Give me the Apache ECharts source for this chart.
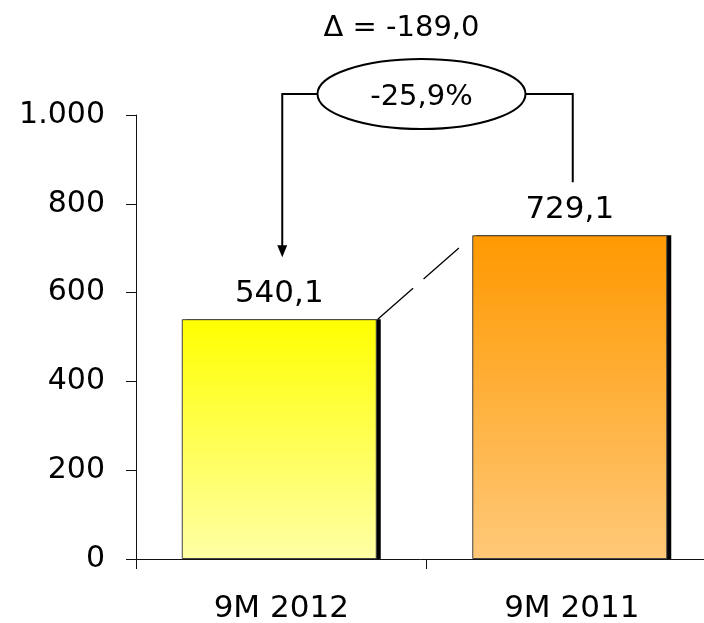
<html>
<head>
<meta charset="UTF-8" />
<script src="https://cdn.jsdelivr.net/npm/echarts@6/dist/echarts.min.js"></script>
</head>
<style type="text/css">
    *{
        margin: 0;
        padding: 0;
    }
    #chart{
        width: 704px;
        height: 623px;
        background: #fff;
    }
</style>
<body>
<div id="chart"></div>
<script type="text/javascript">
    // data
    var categories = ['9M 2012', '9M 2011'];
    var values = [540.1, 729.1];
    var yTicks = [0, 200, 400, 600, 800, 1000];

    var font = "'DejaVu Sans', Verdana, sans-serif";

    function comma(v, d) {
        return v.toFixed(d).replace('.', ',');
    }
    function thousands(v) {
        return String(v).replace(/\B(?=(\d{3})+(?!\d))/g, '.');
    }

    var colors = [
        ['#ffff00', '#ffffa6'],
        ['#ff9900', '#ffc878']
    ];
    var barW = 195;
    var shadowW = 4;

    var myChart = echarts.init(document.getElementById('chart'));
    var option = {
        animation: false,
        grid: {
            left: 136,
            top: 115,
            width: 581,
            bottom: 64,
            outerBoundsMode: 'none'
        },
        xAxis: {
            type: 'category',
            data: categories,
            axisLine: {lineStyle: {color: '#111', width: 1}},
            axisTick: {show: true, interval: 0, alignWithLabel: false, length: 10, lineStyle: {color: '#111', width: 1}},
            axisLabel: {
                color: '#000',
                fontFamily: font,
                fontSize: 31,
                margin: 34
            }
        },
        yAxis: {
            type: 'value',
            min: yTicks[0],
            max: yTicks[yTicks.length - 1],
            interval: yTicks[1] - yTicks[0],
            splitLine: {show: false},
            axisLine: {show: true, lineStyle: {color: '#111', width: 1}},
            axisTick: {show: true, length: 10, lineStyle: {color: '#111'}},
            axisLabel: {
                color: '#000',
                fontFamily: font,
                fontSize: 30,
                margin: 31,
                formatter: thousands
            }
        },
        series: [{
            type: 'bar',
            z: 3,
            barWidth: barW,
            barGap: (-(barW - shadowW) / barW * 100) + '%',
            data: values.map(function (v, i) {
                return {
                    value: v,
                    itemStyle: {
                        color: new echarts.graphic.LinearGradient(0, 0, 0, 1, [
                            {offset: 0, color: colors[i][0]},
                            {offset: 1, color: colors[i][1]}
                        ]),
                        borderColor: '#444',
                        borderWidth: 1
                    }
                };
            }),
            label: {
                show: true,
                position: 'top',
                distance: 10,
                color: '#000',
                fontFamily: font,
                fontSize: 31,
                formatter: function (p) { return comma(p.value, 1); }
            }
        }, {
            // dark edge on the right of each bar
            type: 'bar',
            z: 2,
            silent: true,
            barWidth: barW,
            data: values,
            itemStyle: {color: '#000'}
        }]
    };
    myChart.setOption(option);

    // annotation: difference between the two bars
    var p0 = myChart.convertToPixel({seriesIndex: 0}, [0, values[0]]);
    var p1 = myChart.convertToPixel({seriesIndex: 0}, [1, values[1]]);
    var half = barW / 2;
    var delta = values[0] - values[1];
    var pct = delta / values[1] * 100;
    var bracketY = 94;
    var ex = (p0[0] + p1[0]) / 2 - 5;
    var rx = 104, ry = 35;

    myChart.setOption({
        graphic: [
            // dashed connector between the bar tops
            {type: 'line', shape: {x1: p0[0] + half - 1, y1: p0[1], x2: p1[0] - half - 1, y2: p1[1]},
             style: {stroke: '#000', lineWidth: 1.3, lineDash: [47, 14, 47, 40]}},
            // bracket
            {type: 'polyline', shape: {points: [[ex - rx, bracketY], [p0[0] + 1, bracketY], [p0[0] + 1, p0[1] - 72]]},
             style: {stroke: '#000', lineWidth: 2, fill: null}},
            {type: 'polygon', shape: {points: [[p0[0] - 4, p0[1] - 74], [p0[0] + 6, p0[1] - 74], [p0[0] + 1, p0[1] - 62]]},
             style: {fill: '#000'}},
            {type: 'polyline', shape: {points: [[ex + rx, bracketY], [p1[0] + 1, bracketY], [p1[0] + 1, p1[1] - 53]]},
             style: {stroke: '#000', lineWidth: 2, fill: null}},
            {type: 'ellipse', shape: {cx: ex, cy: bracketY, rx: rx, ry: ry},
             style: {fill: '#fff', stroke: '#000', lineWidth: 2}},
            {type: 'text', x: ex, y: bracketY + 3,
             style: {text: comma(pct, 1) + '%', font: '29px ' + font, fill: '#000', align: 'center', verticalAlign: 'middle'}},
            {type: 'text', x: ex - 20, y: 28,
             style: {text: '\u0394 = ' + comma(delta, 1), font: '29px ' + font, fill: '#000', align: 'center', verticalAlign: 'middle'}}
        ]
    });
</script>
</body>
</html>
